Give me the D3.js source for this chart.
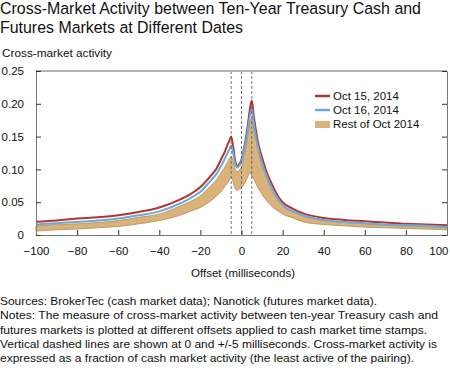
<!DOCTYPE html>
<html>
<head>
<meta charset="utf-8">
<script src="https://cdn.jsdelivr.net/npm/d3@7"></script>
<style>
  body { margin: 0; background: #fff; }
  svg { display: block; font-family: "Liberation Sans", Arial, sans-serif; }
</style>
</head>
<body>
<svg id="chart" width="450" height="370"></svg>
<script>
// offsets in milliseconds
const offsets = [-100, -90, -80, -70, -60, -50, -40, -30, -25, -20, -15, -12, -10, -8, -7, -6, -5, -4, -3, -2, -1, 0, 1, 2, 3, 4, 5, 6, 7, 8, 10, 12, 15, 18, 20, 25, 30, 40, 50, 60, 70, 80, 90, 100];
const oct15 = [0.020, 0.022, 0.025, 0.027, 0.030, 0.035, 0.042, 0.054, 0.062, 0.073, 0.090, 0.102, 0.115, 0.128, 0.136, 0.143, 0.150, 0.133, 0.112, 0.105, 0.108, 0.115, 0.128, 0.145, 0.165, 0.190, 0.205, 0.180, 0.160, 0.142, 0.118, 0.098, 0.076, 0.058, 0.050, 0.040, 0.033, 0.026, 0.023, 0.021, 0.019, 0.017, 0.016, 0.015];
const oct16 = [0.016, 0.018, 0.020, 0.022, 0.025, 0.030, 0.036, 0.048, 0.056, 0.066, 0.083, 0.094, 0.105, 0.117, 0.124, 0.130, 0.137, 0.124, 0.108, 0.103, 0.106, 0.112, 0.125, 0.140, 0.158, 0.180, 0.192, 0.170, 0.150, 0.135, 0.110, 0.092, 0.070, 0.054, 0.046, 0.036, 0.030, 0.023, 0.020, 0.018, 0.016, 0.015, 0.014, 0.012];
const restLow = [0.006, 0.008, 0.009, 0.011, 0.013, 0.017, 0.022, 0.030, 0.036, 0.042, 0.052, 0.060, 0.066, 0.074, 0.078, 0.083, 0.088, 0.080, 0.070, 0.068, 0.070, 0.072, 0.076, 0.082, 0.088, 0.095, 0.090, 0.085, 0.078, 0.072, 0.062, 0.053, 0.043, 0.036, 0.032, 0.026, 0.020, 0.016, 0.014, 0.012, 0.011, 0.010, 0.009, 0.008];
const restHigh = [0.014, 0.016, 0.017, 0.019, 0.022, 0.027, 0.032, 0.044, 0.051, 0.060, 0.075, 0.085, 0.095, 0.104, 0.110, 0.116, 0.120, 0.112, 0.100, 0.097, 0.099, 0.104, 0.115, 0.130, 0.150, 0.170, 0.178, 0.160, 0.145, 0.130, 0.106, 0.088, 0.066, 0.051, 0.045, 0.035, 0.029, 0.022, 0.019, 0.017, 0.015, 0.014, 0.013, 0.011];
const xTicks = [-100, -80, -60, -40, -20, 0, 20, 40, 60, 80, 100];
const yTicks = [0, 0.05, 0.10, 0.15, 0.20, 0.25];
const dashedAt = [-5, 0, 5];
const seriesNames = ["Oct 15, 2014", "Oct 16, 2014", "Rest of Oct 2014"];
const titleLines = ["Cross-Market Activity between Ten-Year Treasury Cash and", "Futures Markets at Different Dates"];
const notes = [
  "Sources: BrokerTec (cash market data); Nanotick (futures market data).",
  "Notes: The measure of cross-market activity between ten-year Treasury cash and",
  "futures markets is plotted at different offsets applied to cash market time stamps.",
  "Vertical dashed lines are shown at 0 and +/-5 milliseconds. Cross-market activity is",
  "expressed as a fraction of cash market activity (the least active of the pairing)."
];
// measured line widths in the picture
const titleWidths = [421, 243];
const noteWidths = [377, 438, 427, 437, 414];

const red = "#b3332f", blue = "#6aaad8", tan = "#d9b27c", tanEdge = "#b38c52";
const fontFam = "Liberation Sans, Arial, sans-serif";

const svg = d3.select("#chart");
const m = {left: 36, right: 3, top: 71, bottom: 135};
const W = 450, H = 370;

const x = d3.scaleLinear().domain([-100, 100]).range([m.left, W - m.right]);
const y = d3.scaleLinear().domain([0, 0.25]).range([H - m.bottom, m.top]);

// title
svg.selectAll(".title").data(titleLines).enter().append("text")
  .attr("x", 0).attr("y", (d, i) => 13.5 + i * 19)
  .style("font-size", "16.3px").attr("fill", "#111")
  .attr("textLength", (d, i) => titleWidths[i]).attr("lengthAdjust", "spacingAndGlyphs")
  .text(d => d);
svg.append("text").attr("x", 2).attr("y", 57).style("font-size", "11px").attr("fill", "#111")
  .attr("textLength", 110).attr("lengthAdjust", "spacingAndGlyphs")
  .text("Cross-market activity");

// band
const band = offsets.map((o, i) => ({o: o, lo: restLow[i], hi: restHigh[i]}));
svg.append("path").datum(band)
  .attr("fill", tan).attr("stroke", tanEdge).attr("stroke-width", 0.8)
  .attr("d", d3.area().x(d => x(d.o)).y0(d => y(d.lo)).y1(d => y(d.hi)).curve(d3.curveMonotoneX));

const line = d3.line().x(d => x(d[0])).y(d => y(d[1])).curve(d3.curveMonotoneX);
svg.append("path").datum(offsets.map((o, i) => [o, oct15[i]]))
  .attr("fill", "none").attr("stroke", red).attr("stroke-width", 2).attr("d", line);
svg.append("path").datum(offsets.map((o, i) => [o, oct16[i]]))
  .attr("fill", "none").attr("stroke", blue).attr("stroke-width", 2).attr("d", line);

// dashed lines
svg.selectAll(".dash").data(dashedAt).enter().append("line")
  .attr("x1", d => x(d)).attr("x2", d => x(d))
  .attr("y1", y(0.25)).attr("y2", y(0))
  .attr("stroke", "#555").attr("stroke-width", 0.8).attr("stroke-dasharray", "3,2");

// frame
svg.append("line").attr("x1", x(-100)).attr("x2", x(100)).attr("y1", y(0.25)).attr("y2", y(0.25))
  .attr("stroke", "#b5b5b5").attr("stroke-width", 2);

const axB = svg.append("g").attr("transform", `translate(0,${y(0)})`)
  .call(d3.axisBottom(x).tickValues(xTicks).tickSizeInner(-5).tickSizeOuter(0).tickPadding(12).tickFormat(d3.format("d")));
const axL = svg.append("g").attr("transform", `translate(${x(-100)},0)`)
  .call(d3.axisLeft(y).tickValues(yTicks).tickSizeInner(-5).tickSizeOuter(0).tickPadding(12)
    .tickFormat(d => d === 0 ? "0" : d3.format(".2f")(d)));
const axR = svg.append("g").attr("transform", `translate(${x(100)},0)`)
  .call(d3.axisRight(y).tickValues(yTicks).tickSizeInner(-5).tickSizeOuter(0).tickFormat(""));
[axB, axL, axR].forEach(g => {
  g.select(".domain").attr("stroke", "#777");
  g.selectAll(".tick line").attr("stroke", "#333");
  g.selectAll("text").style("font-size", "11.5px").attr("fill", "#111").style("font-family", fontFam);
});
axL.selectAll("text").attr("x", -12);
// last label sits flush with the right edge
axB.selectAll(".tick text").filter(d => d === 100).attr("text-anchor", "end").attr("x", 1);

svg.append("text").attr("x", 243).attr("y", 277).attr("text-anchor", "middle")
  .style("font-size", "11.5px").attr("fill", "#111").text("Offset (milliseconds)");

// legend
const lg = svg.append("g").attr("transform", "translate(315,96)");
[red, blue].forEach((c, i) => {
  lg.append("line").attr("x1", 0).attr("x2", 15).attr("y1", i * 14).attr("y2", i * 14)
    .attr("stroke", c).attr("stroke-width", 2.5);
});
lg.append("rect").attr("x", 0).attr("y", 25).attr("width", 15).attr("height", 7).attr("fill", tan);
seriesNames.forEach((s, i) => {
  lg.append("text").attr("x", 18).attr("y", i * 14 + 4).style("font-size", "11.5px").attr("fill", "#111").text(s);
});

// notes
svg.selectAll(".note").data(notes).enter().append("text")
  .attr("x", 0).attr("y", (d, i) => 305 + i * 14.3)
  .style("font-size", "11.3px").attr("fill", "#111")
  .attr("textLength", (d, i) => noteWidths[i]).attr("lengthAdjust", "spacingAndGlyphs")
  .text(d => d);
</script>
</body>
</html>
